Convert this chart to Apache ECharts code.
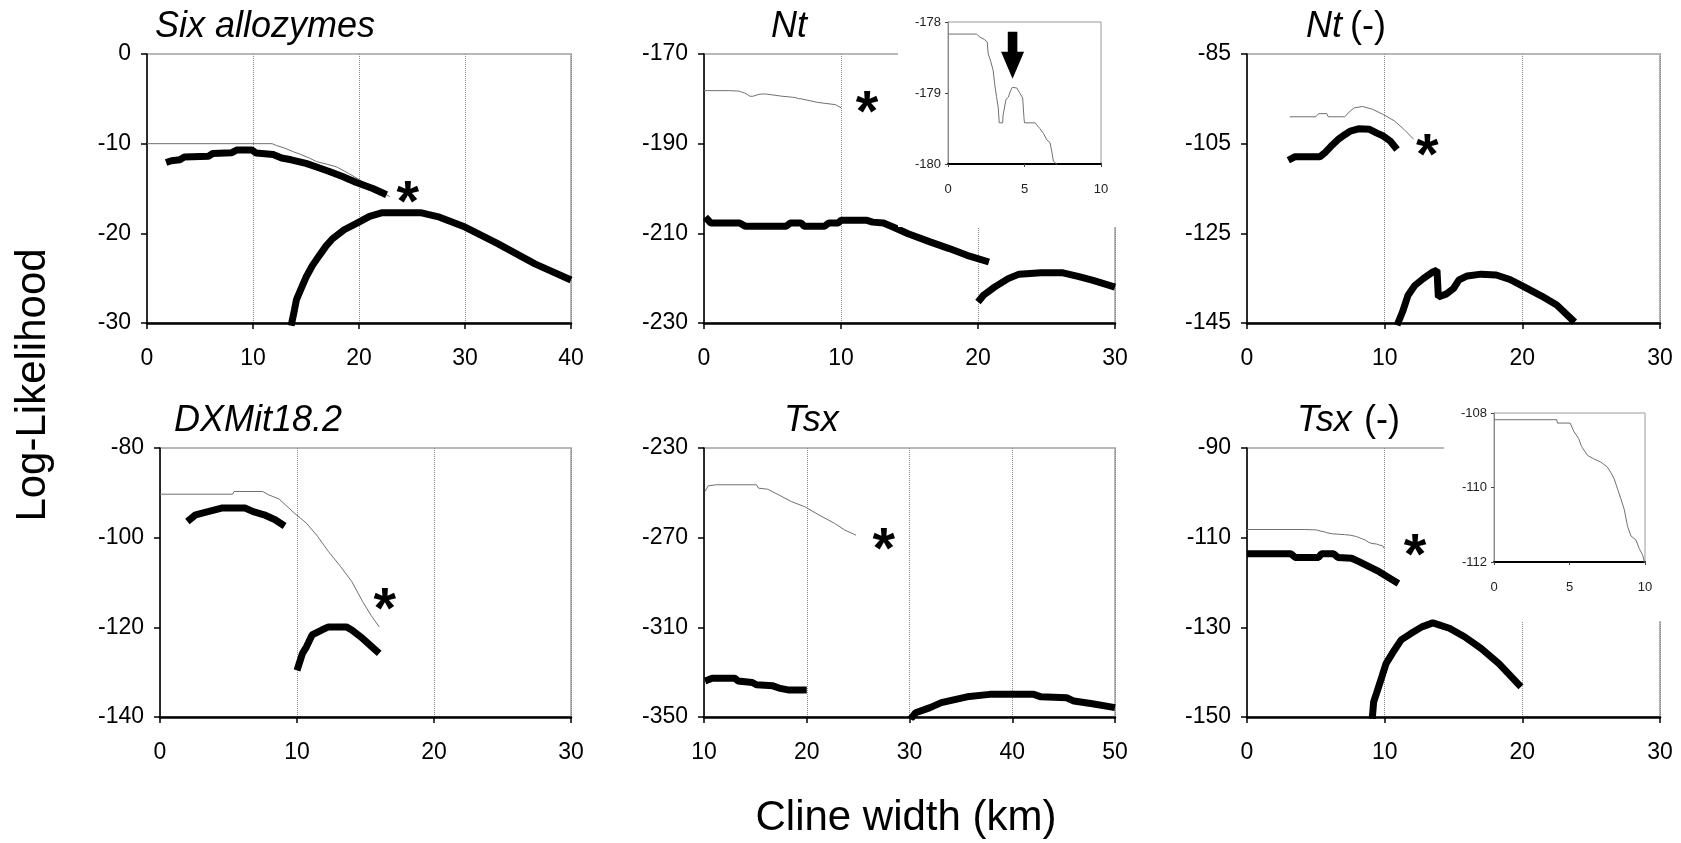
<!DOCTYPE html>
<html><head><meta charset="utf-8">
<script src="https://cdn.jsdelivr.net/npm/echarts@6/dist/echarts.min.js"></script>
<style>html,body{margin:0;padding:0;background:#fff}#c{width:1681px;height:843px}</style>
</head><body><div id="c"></div>
<script>
// ---------- DATA ----------
const panelTitles = ['Six allozymes', 'Nt', 'Nt', 'DXMit18.2', 'Tsx', 'Tsx'];
const xTicks = [[0,40,10],[0,30,10],[0,30,10],[0,30,10],[10,50,10],[0,30,10]];
const yTicks = [[-30,0,10],[-230,-170,20],[-145,-85,20],[-140,-80,20],[-350,-230,40],[-150,-90,20]];
const insetXTicks = [[0,10,5],[0,10,5]];
const insetYTicks = [[-180,-178,1],[-112,-108,2]];

// Six allozymes
const sixThin = [[0,-10],[11.8,-10],[12.2,-10.2],[13,-10.5],[13.8,-10.9],[14.5,-11.2],[15.3,-11.6],[16,-12],[17,-12.3],[17.9,-12.6],[19,-13.3],[20,-14],[21,-14.7],[22,-15.3],[22.9,-15.9]];
const sixThickA = [[1.8,-12.1],[2.3,-11.9],[3.1,-11.8],[3.5,-11.5],[5.8,-11.4],[6.2,-11.1],[8.0,-11.0],[8.5,-10.7],[9.9,-10.7],[10.3,-11.05],[11.9,-11.2],[12.7,-11.6],[13.6,-11.8],[15,-12.2],[16,-12.6],[17.2,-13.1],[18.5,-13.7],[19.7,-14.3],[21.3,-15.0],[22.6,-15.7]];
const sixThickB = [[13.6,-30.3],[13.9,-28.6],[14.1,-27.4],[14.6,-26.0],[15,-24.9],[15.6,-23.6],[16.3,-22.4],[16.9,-21.4],[17.5,-20.6],[18.6,-19.6],[19.9,-18.8],[21,-18.1],[22.2,-17.7],[25.8,-17.7],[27.6,-18.2],[30,-19.3],[33,-21.1],[36.6,-23.4],[40,-25.2]];
const sixStar = [[24.6,-15.2]];

// Nt
const ntThin = [[0,-178.17],[1.86,-178.17],[2.08,-178.21],[2.4,-178.25],[2.56,-178.28],[2.63,-178.45],[2.8,-178.56],[2.95,-178.68],[3.06,-178.89],[3.17,-179.05],[3.28,-179.2],[3.35,-179.42],[3.57,-179.42],[3.6,-179.31],[3.72,-179.29],[3.79,-179.09],[3.94,-179.06],[4.05,-178.99],[4.2,-178.92],[4.5,-178.93],[4.66,-178.99],[4.88,-179.07],[4.97,-179.36],[5.0,-179.42],[5.7,-179.42],[5.8,-179.45],[6.0,-179.5],[6.24,-179.57],[6.46,-179.66],[6.67,-179.7],[6.78,-179.82],[6.89,-179.96],[7.1,-180.0],[7.2,-180.4],[8.3,-180.8],[9.6,-181.3],[10,-182]];
const ntThickA = [[0.1,-206.4],[0.5,-207.7],[2.6,-207.7],[3.0,-208.4],[6.0,-208.4],[6.3,-207.7],[7.1,-207.7],[7.3,-208.4],[8.8,-208.4],[9.1,-207.7],[9.8,-207.7],[10.0,-207.1],[11.9,-207.1],[12.3,-207.5],[13.1,-207.7],[13.8,-208.6],[14.9,-210.1],[16.5,-211.9],[17.9,-213.4],[19.2,-214.9],[20.8,-216.4]];
const ntThickB = [[20,-225.3],[20.4,-223.8],[21.2,-222],[22.2,-220.1],[23,-219.1],[24.6,-218.8],[26.2,-218.8],[27.3,-219.6],[28.4,-220.5],[30,-222]];
const ntStar = [[11.9,-180.2]];
const ntArrow = [[4.22,-178.47]];

// Nt (-)
const ntmThin = [[3.1,-99],[5.0,-99],[5.2,-98.3],[5.8,-98.3],[5.9,-99],[7.1,-99],[7.5,-97.7],[7.8,-97],[8.4,-96.7],[9.1,-97.3],[9.9,-98.5],[10.7,-99.9],[11.4,-101.8],[12.1,-104]];
const ntmThickA = [[3.0,-108.7],[3.5,-107.9],[5.3,-107.9],[5.7,-106.9],[6.1,-105.6],[6.6,-104.1],[7.1,-103],[7.5,-102.2],[8.1,-101.7],[8.9,-101.8],[9.4,-102.6],[9.9,-103.3],[10.4,-104.4],[10.9,-106.3]];
const ntmThickB = [[10.9,-145.5],[11.3,-142.5],[11.7,-138.8],[12.2,-136.6],[12.8,-135.1],[13.5,-133.6],[13.8,-133.2],[13.9,-139.2],[14.5,-138.5],[15,-137.3],[15.4,-135.4],[16,-134.5],[17,-134.1],[18.1,-134.3],[19.1,-135.3],[20.1,-136.9],[21.4,-139],[22.5,-141],[23.8,-144.8]];
const ntmStar = [[13.1,-104.8]];

// DXMit18.2
const dxThin = [[0,-90.3],[5.3,-90.3],[5.4,-89.7],[7.5,-89.7],[7.9,-90.4],[8.7,-91.4],[9.8,-94.5],[10.7,-96.8],[11.5,-99.7],[12.3,-103.1],[13.2,-106.5],[14,-109.8],[14.8,-114.3],[15.4,-117.3],[16,-119.9]];
const dxThickA = [[2,-96.4],[2.6,-94.9],[3.5,-94.2],[4.5,-93.4],[6.2,-93.4],[6.8,-94.2],[7.6,-94.9],[8.4,-96],[9.1,-97.4]];
const dxThickB = [[10,-129.6],[10.4,-125.8],[10.7,-124.3],[11.1,-121.7],[11.8,-120.6],[12.3,-119.9],[13.6,-119.9],[14,-120.6],[14.8,-122.5],[16,-125.8]];
const dxStar = [[16.4,-113.2]];

// Tsx
const tsxThin = [[10.1,-249.4],[10.4,-246.9],[11.2,-246.4],[15.1,-246.4],[15.3,-247.9],[16.2,-248.4],[17.6,-251.7],[18.5,-253.9],[19.8,-256.2],[21.2,-259.9],[22.7,-263.6],[23.7,-266.6],[24.8,-268.9]];
const tsxThickA = [[10.1,-333.9],[10.8,-332.7],[13,-332.7],[13.3,-333.9],[14.7,-334.6],[15.1,-335.6],[16.7,-336.1],[17.3,-337.1],[18.3,-338],[20,-338]];
const tsxThickB = [[30.1,-351],[30.6,-348.1],[32,-345.8],[33.1,-343.6],[35.6,-341],[37.8,-339.9],[42.1,-339.9],[42.8,-341],[45.3,-341.4],[46,-342.9],[47.8,-344.1],[50,-345.8]];
const tsxStar = [[27.5,-269.6]];

// Tsx (-)
const tsxmThin = [[0,-108.18],[4.16,-108.18],[4.2,-108.27],[5.04,-108.27],[5.3,-108.5],[5.6,-108.68],[5.8,-108.9],[6.2,-109.14],[6.6,-109.23],[7.08,-109.32],[7.5,-109.45],[7.74,-109.6],[7.96,-109.77],[8.19,-110.05],[8.4,-110.3],[8.63,-110.6],[8.85,-111.05],[9.07,-111.3],[9.4,-111.41],[9.62,-111.64],[9.85,-111.82],[9.96,-112.0],[10.0,-112.5]];
const tsxmThickA = [[0,-113.6],[3.2,-113.6],[3.5,-114.4],[5.2,-114.4],[5.4,-113.6],[6.3,-113.6],[6.6,-114.4],[7.6,-114.6],[8.1,-115.3],[8.9,-116.5],[9.6,-117.6],[10.4,-119.1],[11,-120.2]];
const tsxmThickB = [[9.1,-150.4],[9.2,-146.6],[9.4,-144.8],[9.8,-141],[10.1,-138.1],[10.7,-135.1],[11.2,-132.8],[11.9,-131.4],[12.7,-129.9],[13.5,-129],[14,-129.5],[14.7,-130.2],[15.8,-132.1],[17,-134.7],[18.3,-138.1],[19.9,-143.3]];
const tsxmStar = [[12.2,-111.2]];

// ---------- BUILD ----------
const FONT = '"Liberation Sans", Arial, Helvetica, sans-serif';
const mainGrids = [
  {left:147, top:54, width:424, height:269},
  {left:704, top:54, width:411, height:269},
  {left:1247, top:54, width:413, height:269},
  {left:160, top:448, width:411, height:269},
  {left:704, top:448, width:411, height:269},
  {left:1247, top:448, width:413, height:269}
];
const insetGrids = [
  {left:948, top:22, width:153, height:142},
  {left:1494, top:413, width:151, height:149}
];

const grid = [];
const xAxis = [];
const yAxis = [];
mainGrids.forEach((g, i) => {
  grid.push(Object.assign({show:true, borderColor:'#b8b8b8', borderWidth:2, backgroundColor:'transparent', containLabel:false, outerBoundsMode:'none'}, g));
  xAxis.push({gridIndex:i, type:'value', min:xTicks[i][0], max:xTicks[i][1], interval:xTicks[i][2],
    axisLine:{show:true, onZero:false, lineStyle:{color:'#000', width:2.5}},
    axisTick:{show:true, length:6, lineStyle:{color:'#000', width:1.5}},
    axisLabel:{fontSize:23, color:'#000', fontFamily:FONT, margin:24, showMinLabel:true, showMaxLabel:true},
    splitLine:{show:true, lineStyle:{type:'dotted', color:'#8a8a8a', width:1}}});
  yAxis.push({gridIndex:i, type:'value', min:yTicks[i][0], max:yTicks[i][1], interval:yTicks[i][2],
    axisLine:{show:true, onZero:false, lineStyle:{color:'#000', width:1.5}},
    axisTick:{show:true, length:6, lineStyle:{color:'#000', width:1.5}},
    axisLabel:{fontSize:23, color:'#000', fontFamily:FONT, margin:16, showMinLabel:true, showMaxLabel:true},
    splitLine:{show:false}});
});
insetGrids.forEach((g, k) => {
  const i = 6 + k;
  grid.push(Object.assign({show:true, borderColor:'#9a9a9a', borderWidth:1, backgroundColor:'transparent', containLabel:false, outerBoundsMode:'none', z:30}, g));
  xAxis.push({gridIndex:i, type:'value', min:insetXTicks[k][0], max:insetXTicks[k][1], interval:insetXTicks[k][2], z:30,
    axisLine:{show:true, onZero:false, lineStyle:{color:'#000', width:2}},
    axisTick:{show:true, length:3, lineStyle:{color:'#444', width:1}},
    axisLabel:{fontSize:13, color:'#222', fontFamily:FONT, margin:19, showMinLabel:true, showMaxLabel:true},
    splitLine:{show:false}});
  yAxis.push({gridIndex:i, type:'value', min:insetYTicks[k][0], max:insetYTicks[k][1], interval:insetYTicks[k][2], z:30,
    axisLine:{show:true, onZero:false, lineStyle:{color:'#888', width:1}},
    axisTick:{show:true, length:3, lineStyle:{color:'#444', width:1}},
    axisLabel:{fontSize:13, color:'#222', fontFamily:FONT, margin:7, showMinLabel:true, showMaxLabel:true},
    splitLine:{show:false}});
});

function lineS(data, g, thick, z) {
  return {type:'line', xAxisIndex:g, yAxisIndex:g, data:data, symbol:'none', showSymbol:false, silent:true,
    clip:true, z: z || 2,
    lineStyle:{color: thick ? '#000' : '#707070', width: thick ? 7 : 1}};
}
function starS(data, g) {
  return {type:'scatter', xAxisIndex:g, yAxisIndex:g, data:data, symbolSize:1, silent:true, z:5,
    itemStyle:{color:'rgba(0,0,0,0)', opacity:1},
    label:{show:true, position:'inside', formatter:'*', fontSize:58, fontWeight:'bold', color:'#000', opacity:1, fontFamily:FONT, offset:[0,15]}};
}

const series = [
  lineS(sixThin,0,false), lineS(sixThickA,0,true), lineS(sixThickB,0,true), starS(sixStar,0),
  lineS(ntThin,1,false), lineS(ntThickA,1,true), lineS(ntThickB,1,true), starS(ntStar,1),
  lineS(ntmThin,2,false), lineS(ntmThickA,2,true), lineS(ntmThickB,2,true), starS(ntmStar,2),
  lineS(dxThin,3,false), lineS(dxThickA,3,true), lineS(dxThickB,3,true), starS(dxStar,3),
  lineS(tsxThin,4,false), lineS(tsxThickA,4,true), lineS(tsxThickB,4,true), starS(tsxStar,4),
  lineS(tsxmThin,5,false), lineS(tsxmThickA,5,true), lineS(tsxmThickB,5,true), starS(tsxmStar,5),
  lineS(ntThin,6,false,30),
  {type:'scatter', xAxisIndex:6, yAxisIndex:6, data:ntArrow, silent:true, z:31,
   symbol:'path://M7,0 L17,0 L17,20 L24,20 L12,47 L0,20 L7,20 Z', symbolSize:[23,47], symbolKeepAspect:false,
   itemStyle:{color:'#000', opacity:1}},
  lineS(tsxmThin,7,false,30)
];

function txt(x, y, text, font, extra) {
  return Object.assign({type:'text', x:x, y:y, silent:true,
    style:{text:text, font:font, fill:'#000', textAlign:'left', align:'left', textVerticalAlign:'middle', verticalAlign:'middle'}}, extra || {});
}
const IT36 = 'italic 36px ' + FONT;
const N36 = '36px ' + FONT;
const N42 = '42px ' + FONT;
const graphicEls = [
  {type:'rect', shape:{x:898, y:0, width:230, height:227}, style:{fill:'#fff'}, z:10, silent:true},
  {type:'rect', shape:{x:1444, y:396, width:237, height:225}, style:{fill:'#fff'}, z:10, silent:true},
  txt(155, 27, panelTitles[0], IT36),
  txt(771, 27, panelTitles[1], IT36),
  txt(1306, 27, panelTitles[2], IT36),
  txt(1350, 27, '(-)', N36),
  txt(174, 421, panelTitles[3], IT36),
  txt(784, 421, panelTitles[4], IT36),
  txt(1297, 421, panelTitles[5], IT36),
  txt(1364, 421, '(-)', N36)
];
const yName = txt(33, 385, 'Log-Likelihood', N42, {rotation: Math.PI/2});
yName.style.textAlign = 'center'; yName.style.align = 'center';
const xName = txt(906, 818, 'Cline width (km)', N42);
xName.style.textAlign = 'center'; xName.style.align = 'center';
graphicEls.push(yName, xName);

const chart = echarts.init(document.getElementById('c'), null, {renderer:'canvas'});
chart.setOption({
  animation:false,
  backgroundColor:'#fff',
  grid: grid, xAxis: xAxis, yAxis: yAxis, series: series,
  graphic: {z: 10, elements: graphicEls}
});
</script>
</body></html>
